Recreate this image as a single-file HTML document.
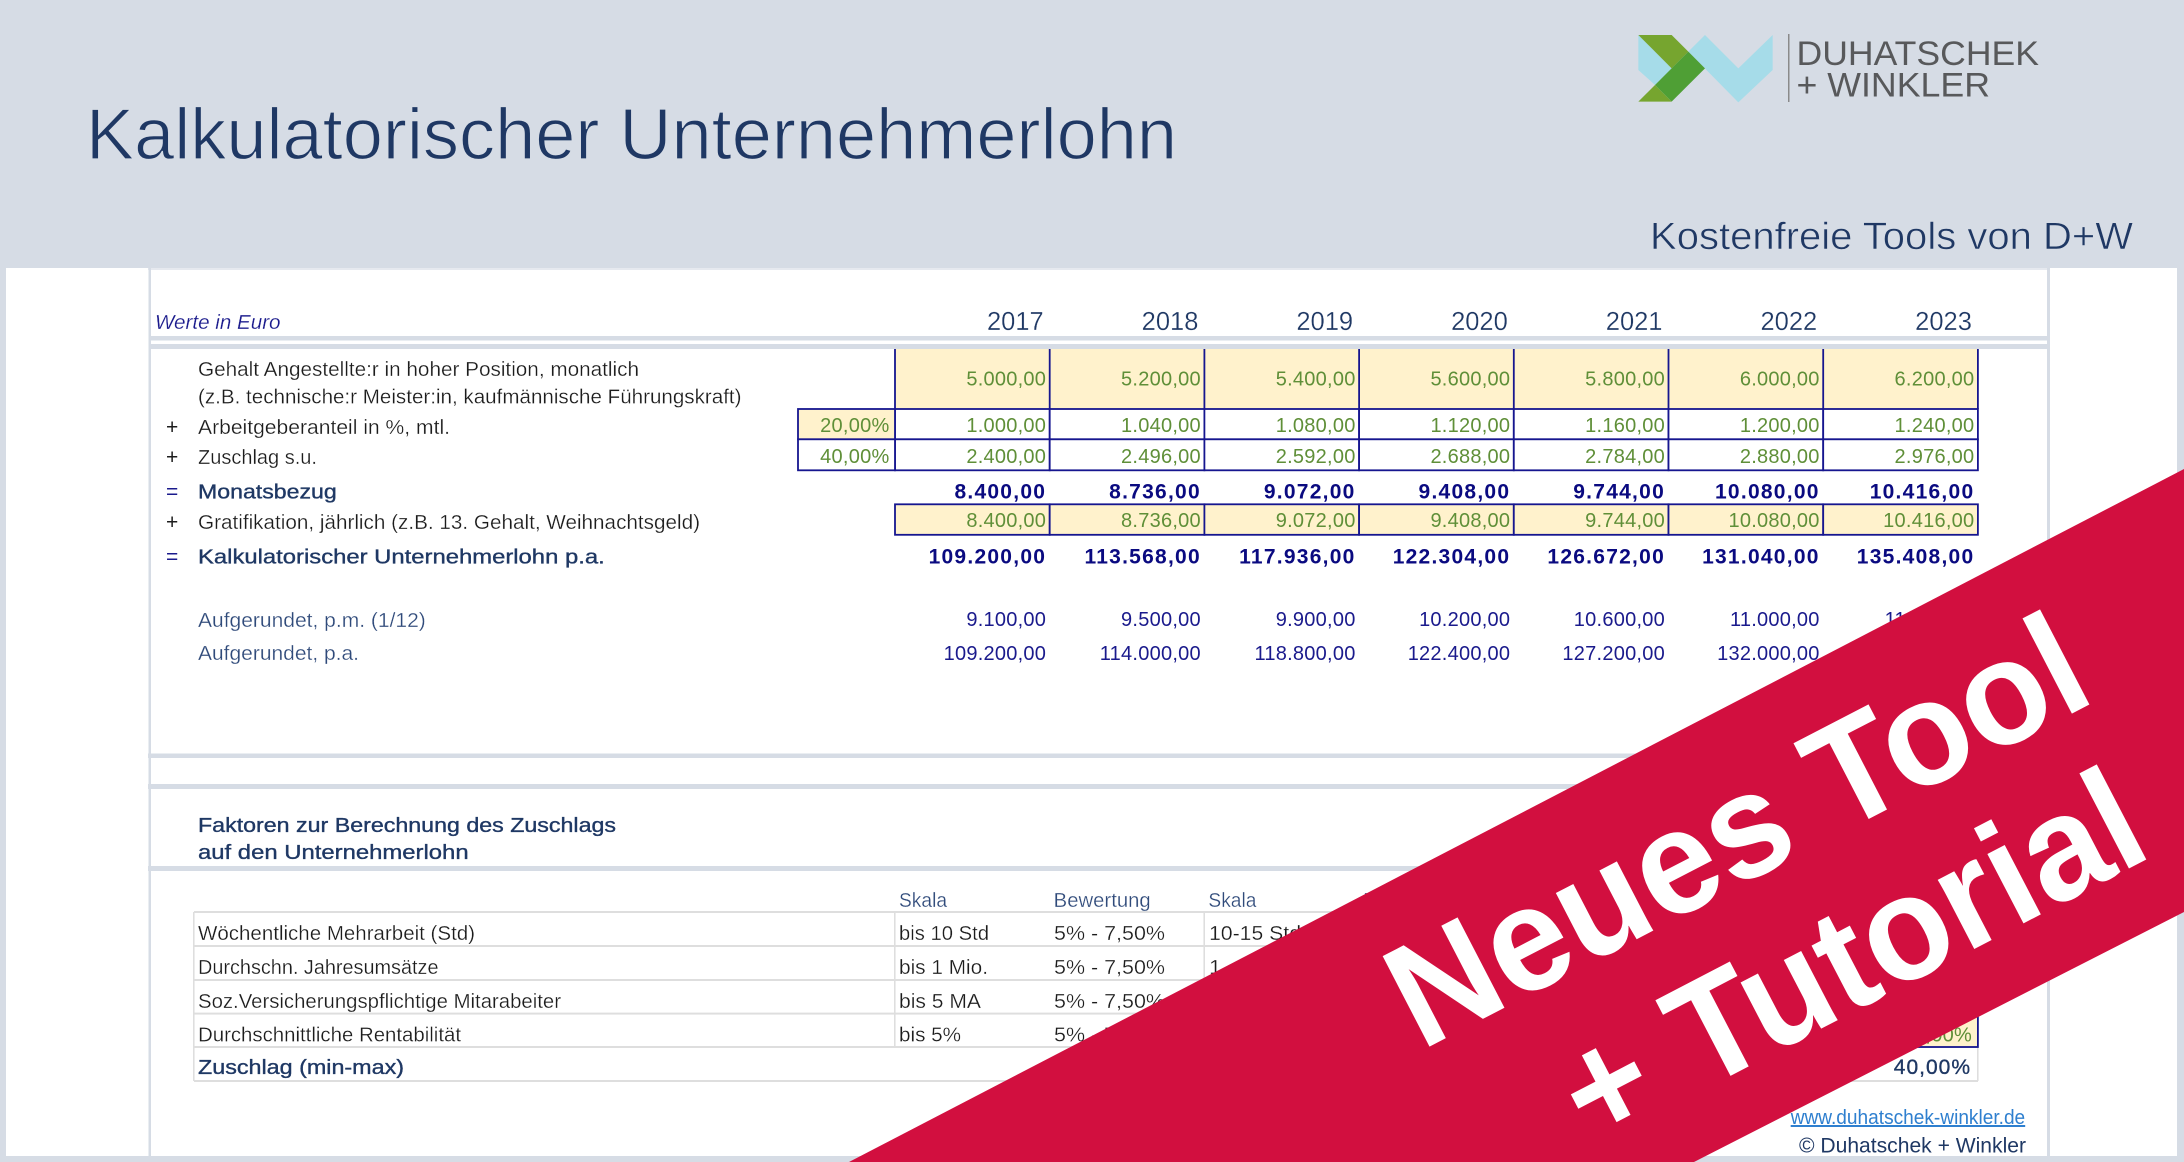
<!DOCTYPE html>
<html lang="de">
<head>
<meta charset="utf-8">
<title>Kalkulatorischer Unternehmerlohn</title>
<style>
html,body{margin:0;padding:0;width:2184px;height:1162px;overflow:hidden;background:#d6dce5}
svg{display:block;font-family:"Liberation Sans",sans-serif}
</style>
</head>
<body>
<svg id="root" xmlns="http://www.w3.org/2000/svg" width="2184" height="1162" viewBox="0 0 2184 1162">
  <rect x="0" y="0" width="2184" height="1162" fill="#d6dce5"/>
  <text x="86" y="159" font-size="72" fill="#1f3864" stroke="#d6dce5" stroke-width="1.2" textLength="1091" lengthAdjust="spacingAndGlyphs">Kalkulatorischer Unternehmerlohn</text>
  <text x="1650" y="249" font-size="38" fill="#1f3864" stroke="#d6dce5" stroke-width="0.6" textLength="483" lengthAdjust="spacingAndGlyphs">Kostenfreie Tools von D+W</text>

  <g transform="translate(1620 20) scale(.3333)">
    <polygon points="55,45 155,145 105,195 55,150" fill="#a6dce9"/>
    <polygon points="255,45 355,145 458,45 458,150 355,247 205,95" fill="#a6dce9"/>
    <polygon points="55,45 155,45 205,95 155,145" fill="#76a52f"/>
    <polygon points="105,195 155,245 55,245" fill="#76a52f"/>
    <polygon points="205,95 255,145 155,245 105,195" fill="#4f9f35"/>
  </g>
  <rect x="1788" y="34" width="1.5" height="68" fill="#8a8a8a"/>
  <text x="1796.5" y="65" font-size="34" fill="#58595b" textLength="242.5" lengthAdjust="spacingAndGlyphs">DUHATSCHEK</text>
  <text x="1796.5" y="96.7" font-size="34" fill="#58595b" textLength="193.5" lengthAdjust="spacingAndGlyphs">+ WINKLER</text>

  <rect x="6" y="268" width="2171" height="888" fill="#ffffff"/>
  <rect x="148" y="268" width="1902" height="2" fill="#e6e9ef"/>
  <rect x="148.5" y="268" width="2.5" height="888" fill="#d6dce5"/>
  <rect x="2047" y="268" width="3" height="888" fill="#d6dce5"/>
  <rect x="150" y="336" width="1900" height="4.5" fill="#d6dce5"/>
  <rect x="150" y="344" width="1900" height="5" fill="#d6dce5"/>
  <rect x="148" y="753.5" width="1902" height="4.5" fill="#d6dce5"/>
  <rect x="148" y="784" width="1902" height="5" fill="#d6dce5"/>
  <rect x="148" y="866" width="1902" height="5" fill="#d6dce5"/>

  <text x="155" y="329" font-size="20" font-style="italic" fill="#1a1a8c" stroke="#ffffff" stroke-width="0.2" textLength="125.5" lengthAdjust="spacingAndGlyphs">Werte in Euro</text>

  <g id="sheet"></g>

  <text x="1790.7" y="1124" font-size="20" fill="#2e7fcf" text-decoration="underline" textLength="234.5" lengthAdjust="spacingAndGlyphs">www.duhatschek-winkler.de</text>
  <text x="1799" y="1152.5" font-size="21" fill="#1f3864" textLength="227" lengthAdjust="spacingAndGlyphs">© Duhatschek + Winkler</text>

  <polygon points="849,1162 2184,469 2184,912 1694,1162" fill="#d20f3f"/>
  <text transform="translate(1421 1051) rotate(-27.4)" x="0" y="0" font-size="148" font-weight="bold" fill="#ffffff" textLength="763" lengthAdjust="spacingAndGlyphs">Neues Tool</text>
  <text transform="translate(1592 1148) rotate(-27.5)" x="0" y="0" font-size="148" font-weight="bold" fill="#ffffff" textLength="635" lengthAdjust="spacingAndGlyphs">+ Tutorial</text>
</svg>

<script>
const years = [2017, 2018, 2019, 2020, 2021, 2022, 2023];
const baseSalary = [5000, 5200, 5400, 5600, 5800, 6000, 6200];
const employerShare = [1000, 1040, 1080, 1120, 1160, 1200, 1240];
const surcharge = [2400, 2496, 2592, 2688, 2784, 2880, 2976];
const monthlyPay = [8400, 8736, 9072, 9408, 9744, 10080, 10416];
const gratification = [8400, 8736, 9072, 9408, 9744, 10080, 10416];
const annualWage = [109200, 113568, 117936, 122304, 126672, 131040, 135408];
const roundedMonthly = [9100, 9500, 9900, 10200, 10600, 11000, 11300];
const roundedAnnual = [109200, 114000, 118800, 122400, 127200, 132000, 135600];
const employerPercent = "20,00%";
const surchargePercent = "40,00%";
const factorLabels = ["Wöchentliche Mehrarbeit (Std)", "Durchschn. Jahresumsätze", "Soz.Versicherungspflichtige Mitarabeiter", "Durchschnittliche Rentabilität"];
const factorScale = ["bis 10 Std", "bis 1 Mio.", "bis 5 MA", "bis 5%"];
const factorRating = ["5% - 7,50%", "5% - 7,50%", "5% - 7,50%", "5% - 7,50%"];
const factorScale2 = ["10-15 Std", "1 - 5 Mio."];
const factorHeaders = ["Skala", "Bewertung", "Skala", "Bewertung"];
const factorSelected = "10,00%";
const factorTotal = "40,00%";

const NS = "http://www.w3.org/2000/svg";
const sheet = document.getElementById("sheet");
const NAVY = "#16168f", GREEN = "#5f8f38", GOLD = "#fff2cc", DARK = "#1f3864", INK = "#1c1c1c", GRID = "#dedede";
const colX = i => 895 + 154.7 * i;
const valRight = i => colX(i + 1) - 3.5;

function fmt(v) {
  const p = v.toFixed(2).split(".");
  return p[0].replace(/\B(?=(\d{3})+$)/g, ".") + "," + p[1];
}
function addText(x, y, str, size, fill, opts) {
  const o = opts || {};
  const el = document.createElementNS(NS, "text");
  el.setAttribute("x", x);
  el.setAttribute("y", y);
  el.setAttribute("font-size", size);
  el.setAttribute("fill", fill);
  if (o.anchor) el.setAttribute("text-anchor", o.anchor);
  if (o.bold) el.setAttribute("font-weight", "bold");
  if (o.semi) { el.setAttribute("stroke", fill); el.setAttribute("stroke-width", "0.35"); }
  if (o.thin) { el.setAttribute("stroke", "#ffffff"); el.setAttribute("stroke-width", "0.25"); }
  if (o.ls) el.setAttribute("letter-spacing", o.ls);
  if (o.len) { el.setAttribute("textLength", o.len); el.setAttribute("lengthAdjust", "spacingAndGlyphs"); }
  el.textContent = str;
  sheet.appendChild(el);
  return el;
}
function addRect(x, y, w, h, fill, stroke, sw) {
  const el = document.createElementNS(NS, "rect");
  el.setAttribute("x", x);
  el.setAttribute("y", y);
  el.setAttribute("width", w);
  el.setAttribute("height", h);
  el.setAttribute("fill", fill);
  if (stroke) { el.setAttribute("stroke", stroke); el.setAttribute("stroke-width", sw || 2); }
  sheet.appendChild(el);
  return el;
}

/* year headers */
years.forEach((y, i) => {
  const el = addText(colX(i + 1) - 6, 330, String(y), 25.5, DARK, { anchor: "end", thin: true });
  
  
});

/* input cells: base salary */
years.forEach((y, i) => {
  const el = addRect(colX(i), 349, 154.7, 60, GOLD);
  
  
});
for (let i = 0; i <= years.length; i++) {
  const el = addRect(colX(i) - 0.9, 349, 1.8, 60, NAVY);
  
  
}

/* bordered rows */
function borderRow(y0, h, fill, key) {
  years.forEach((y, i) => {
    const el = addRect(colX(i), y0, 154.7, h, fill, NAVY, 1.8);
    
    
  });
}
borderRow(409, 30.3, "#ffffff", "employer-share");
borderRow(439.3, 31, "#ffffff", "surcharge");
borderRow(504.3, 30.5, GOLD, "gratification");

const pctA = addRect(798, 409, 97, 30.3, GOLD, NAVY, 1.8);


const pctB = addRect(798, 439.3, 97, 31, "#ffffff", NAVY, 1.8);



const pctAText = addText(889.5, 432, employerPercent, 20, GREEN, { anchor: "end", ls: ".25" });


const pctBText = addText(889.5, 463, surchargePercent, 20, GREEN, { anchor: "end", ls: ".25" });



/* value rows */
baseSalary.forEach((v, i) => {
  const el = addText(valRight(i), 385.7, fmt(v), 20, GREEN, { anchor: "end", ls: ".25" });
  
  
});
employerShare.forEach((v, i) => {
  const el = addText(valRight(i), 432, fmt(v), 20, GREEN, { anchor: "end", ls: ".25" });
  
  
});
surcharge.forEach((v, i) => {
  const el = addText(valRight(i), 463, fmt(v), 20, GREEN, { anchor: "end", ls: ".25" });
  
  
});
monthlyPay.forEach((v, i) => {
  const el = addText(valRight(i), 498.7, fmt(v), 21, "#0a0a80", { anchor: "end", bold: true, ls: "1.25" });
  
  
});
gratification.forEach((v, i) => {
  const el = addText(valRight(i), 527, fmt(v), 20, GREEN, { anchor: "end", ls: ".25" });
  
  
});
annualWage.forEach((v, i) => {
  const el = addText(valRight(i), 563.5, fmt(v), 21, "#0a0a80", { anchor: "end", bold: true, ls: "1.25" });
  
  
});
roundedMonthly.forEach((v, i) => {
  const el = addText(valRight(i), 626, fmt(v), 20, "#1a1a8c", { anchor: "end", ls: ".25" });
  
  
});
roundedAnnual.forEach((v, i) => {
  const el = addText(valRight(i), 660, fmt(v), 20, "#1a1a8c", { anchor: "end", ls: ".25" });
  
  
});

/* row labels */
const rowLabels = [
  ["", "Gehalt Angestellte:r in hoher Position, monatlich", 376, 441, INK, false],
  ["", "(z.B. technische:r Meister:in, kaufmännische Führungskraft)", 403.7, 543.5, INK, false],
  ["+", "Arbeitgeberanteil in %, mtl.", 434, 252, INK, false],
  ["+", "Zuschlag s.u.", 464, 119, INK, false],
  ["=", "Monatsbezug", 498.6, 138.7, DARK, true],
  ["+", "Gratifikation, jährlich (z.B. 13. Gehalt, Weihnachtsgeld)", 529, 502, INK, false],
  ["=", "Kalkulatorischer Unternehmerlohn p.a.", 563.7, 406.7, DARK, true],
  ["", "Aufgerundet, p.m. (1/12)", 627, 227.8, "#2f4a7a", false],
  ["", "Aufgerundet, p.a.", 660, 161, "#2f4a7a", false]
];
rowLabels.forEach(r => {
  if (r[0]) {
    const sign = addText(166, r[2], r[0], 21, r[5] ? "#1a1a8c" : INK);
    
    
  }
  const el = addText(198, r[2], r[1], 20, r[4], { len: r[3], semi: r[5], thin: !r[5] });
  
  
});

/* factor section */
const fHead1 = addText(198, 832, "Faktoren zur Berechnung des Zuschlags", 20, DARK, { len: 418, semi: true });


const fHead2 = addText(198, 859, "auf den Unternehmerlohn", 20, DARK, { len: 270.6, semi: true });



const headerLens = [48, 97, 48, 97];
factorHeaders.forEach((h, i) => {
  const el = addText(colX(i) + 4, 907, h, 20, "#2f4a7a", { len: headerLens[i], thin: true });
  
  
});

const rowLines = [912, 946, 980, 1013.6, 1047, 1081];
rowLines.forEach(y => {
  const el = addRect(194, y - 1, 1784, 2, GRID);
  
  
});
[[194, 912, 169], [1978, 912, 169], [895, 912, 135], [1204.4, 912, 135]].forEach(v => {
  const el = addRect(v[0] - 1, v[1], 1.6, v[2], GRID);
  
  
});

const factorBase = [940, 974, 1008, 1041.6];
const labelLens = [277, 240.5, 363, 263];
factorLabels.forEach((t, i) => {
  const el = addText(198, factorBase[i], t, 20, INK, { len: labelLens[i], thin: true });
  
  
});
const scaleLens = [90, 89, 82, 62];
factorScale.forEach((t, i) => {
  const el = addText(899, factorBase[i], t, 20, INK, { len: scaleLens[i], thin: true });
  
  
});
factorRating.forEach((t, i) => {
  const el = addText(1054, factorBase[i], t, 20, INK, { len: 111, thin: true });
  
  
});
const scale2Lens = [92, 92];
factorScale2.forEach((t, i) => {
  const el = addText(1209, factorBase[i], t, 20, INK, { len: scale2Lens[i], thin: true });
  
  
});

const selCell = addRect(colX(6), 1013.6, 154.7, 33.4, GOLD, NAVY, 1.8);


const selText = addText(1972, 1041.6, factorSelected, 20, GREEN, { anchor: "end", ls: ".25" });



const totalLabel = addText(198, 1074, "Zuschlag (min-max)", 20, DARK, { len: 206, semi: true });


const totalValue = addText(1971, 1074, factorTotal, 21, DARK, { anchor: "end", semi: true, ls: "1" });


</script>
</body>
</html>
